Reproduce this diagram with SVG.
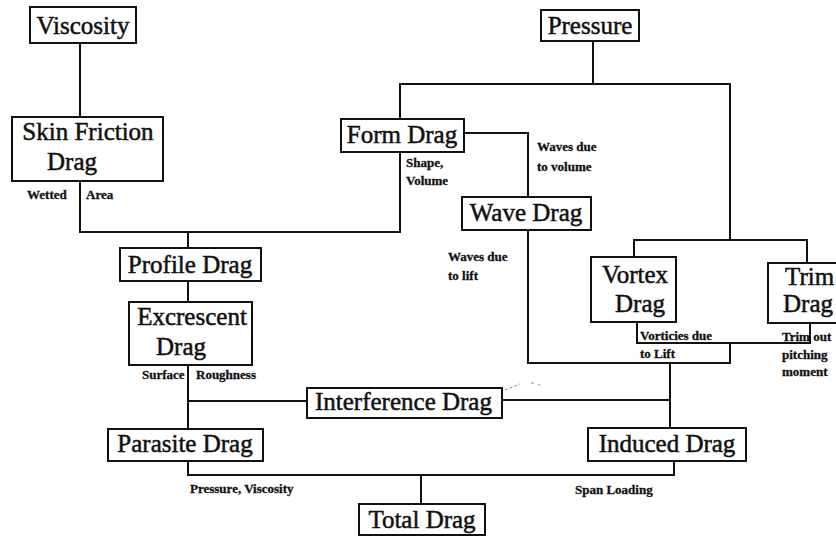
<svg xmlns="http://www.w3.org/2000/svg" width="836" height="536" viewBox="0 0 836 536">
<style>
.box{fill:#fff;stroke:#111;stroke-width:2}
.t{font-family:"Liberation Serif","Times New Roman",serif;font-size:25px;fill:#111;stroke:#111;stroke-width:0.5}
.c{text-anchor:middle}
.l{font-family:"Liberation Serif","Times New Roman",serif;font-size:13px;font-weight:bold;fill:#111;stroke:#111;stroke-width:0.3}
.con{fill:none;stroke:#111;stroke-width:2}
</style>
<rect width="836" height="536" fill="#fff"/>
<g id="connectors" class="con">
<path d="M80 43V117"/>
<path d="M80 181V232H400V152"/>
<path d="M188 232V248"/>
<path d="M593 41V84"/>
<path d="M400 119V84H730V240"/>
<path d="M634 257V240H807V263"/>
<path d="M464 133H528V197"/>
<path d="M528 230V363H730V343"/>
<path d="M637 322V343H810V323"/>
<path d="M670 363V428"/>
<path d="M188 281V302"/>
<path d="M188 365V429"/>
<path d="M188 401H307"/>
<path d="M502 400H670"/>
<path d="M188 461V475H674V461"/>
<path d="M421 475V504"/>
<path d="M505 390L520 384M531 383L535 383M538 384L541 386" stroke="#888" stroke-width="1" stroke-dasharray="3 2"/>
</g>
<g id="viscosity"><rect class="box" x="30" y="7" width="106" height="36"/><text class="t c" x="83" y="34">Viscosity</text></g>
<g id="pressure"><rect class="box" x="541" y="10" width="98" height="31"/><text class="t c" x="590" y="34">Pressure</text></g>
<g id="skin-friction-drag"><rect class="box" x="12" y="117" width="151" height="64"/><text class="t c" x="88" y="140">Skin Friction</text><text class="t c" x="72" y="170">Drag</text></g>
<g id="form-drag"><rect class="box" x="341" y="119" width="123" height="33"/><text class="t c" x="402" y="143">Form Drag</text></g>
<g id="wave-drag"><rect class="box" x="462" y="197" width="129" height="33"/><text class="t c" x="526" y="221">Wave Drag</text></g>
<g id="profile-drag"><rect class="box" x="120" y="248" width="141" height="33"/><text class="t c" x="190" y="273">Profile Drag</text></g>
<g id="vortex-drag"><rect class="box" x="591" y="257" width="85" height="65"/><text class="t c" x="635" y="283">Vortex</text><text class="t c" x="640" y="312">Drag</text></g>
<g id="trim-drag"><rect class="box" x="768" y="263" width="80" height="60"/><text class="t" x="785" y="285">Trim</text><text class="t" x="783" y="312">Drag</text></g>
<g id="excrescent-drag"><rect class="box" x="129" y="302" width="123" height="63"/><text class="t c" x="192" y="325">Excrescent</text><text class="t c" x="181" y="355">Drag</text></g>
<g id="interference-drag"><rect class="box" x="307" y="388" width="195" height="30"/><text class="t" x="315" y="410">Interference Drag</text></g>
<g id="parasite-drag"><rect class="box" x="108" y="429" width="155" height="32"/><text class="t c" x="185" y="452">Parasite Drag</text></g>
<g id="induced-drag"><rect class="box" x="588" y="428" width="158" height="33"/><text class="t c" x="667" y="452">Induced Drag</text></g>
<g id="total-drag"><rect class="box" x="359" y="504" width="126" height="31"/><text class="t c" x="422" y="528">Total Drag</text></g>
<g id="labels">
<text class="l" x="27" y="199">Wetted</text>
<text class="l" x="86" y="199">Area</text>
<text class="l" x="406" y="167">Shape,</text>
<text class="l" x="406" y="185">Volume</text>
<text class="l" x="537" y="151">Waves due</text>
<text class="l" x="537" y="171">to volume</text>
<text class="l" x="448" y="261">Waves due</text>
<text class="l" x="448" y="280">to lift</text>
<text class="l" x="640" y="340">Vorticies due</text>
<text class="l" x="640" y="358">to Lift</text>
<text class="l" x="782" y="341">Trim out</text>
<text class="l" x="782" y="359">pitching</text>
<text class="l" x="782" y="376">moment</text>
<text class="l" x="142" y="379">Surface</text>
<text class="l" x="196" y="379">Roughness</text>
<text class="l" x="190" y="493">Pressure, Viscosity</text>
<text class="l" x="575" y="494">Span Loading</text>
</g>
</svg>
